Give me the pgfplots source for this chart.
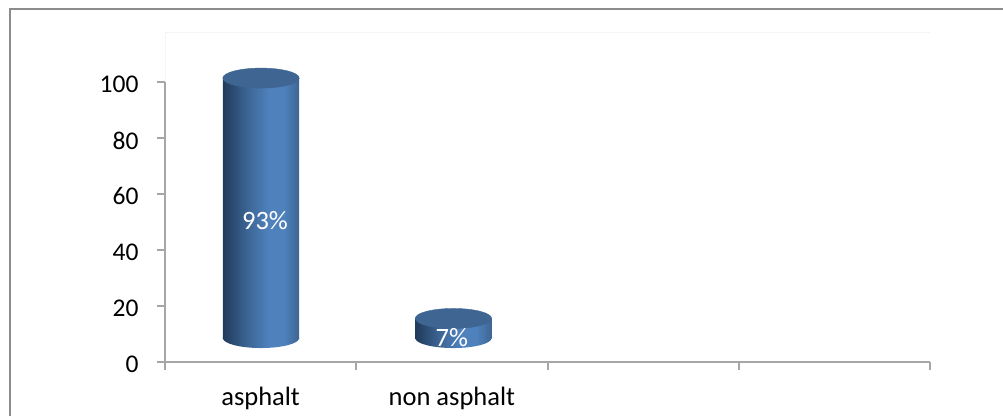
\documentclass[border=0pt]{standalone}
\usepackage{pgfplots}
\pgfplotsset{compat=1.18}
\usepackage{pgfplotstable}
\usepackage{fontspec}
\setmainfont{Carlito}
\definecolor{axisgray}{HTML}{A6A6A6}
\definecolor{framegray}{HTML}{8C8C8C}
\definecolor{captop}{HTML}{3F6693}
\definecolor{cyldark}{HTML}{203A5A}
\definecolor{cylmid}{HTML}{3C6595}
\definecolor{cyllight}{HTML}{4F81BD}
\definecolor{cylright}{HTML}{3E6593}
% Horizontal body shading of the cylinders
\pgfdeclarehorizontalshading{cylbody}{100bp}{
  color(0bp)=(cyldark);
  color(25bp)=(cyldark);
  color(41bp)=(cylmid);
  color(55bp)=(cyllight);
  color(65bp)=(cyllight);
  color(75bp)=(cylright);
  color(100bp)=(cylright)}
% Cylinder caps: top face and rounded underside
\pgfdeclareplotmark{cyltop}{%
  \fill[captop] (0,0) ellipse [x radius=38.2pt, y radius=10pt];}
\pgfdeclareplotmark{cylbase}{%
  \path[shade, shading=cylbody, draw=none] (-38.2pt,0.5pt) -- (-38.2pt,0pt)
     arc [start angle=180, end angle=360, x radius=38.2pt, y radius=10pt]
     -- (38.2pt,0.5pt) -- cycle;}
\pgfplotstableread{
x      base  value
0.502  8.4   93
}\asphalt
\pgfplotstableread{
x      base  value
1.508  8.4   7
}\nonasphalt
% Same plot box for every layer of the chart
\pgfplotsset{plotbox/.style={
  at={(165pt,54.5pt)}, anchor=south west,
  scale only axis, width=765pt, height=279.5pt,
  xmin=0, xmax=4, ymin=0, ymax=100, clip=false}}
% One cylinder: base offset, shaded body, rounded underside and top face
\newcommand{\cylinder}[1]{%
  \begin{axis}[plotbox, hide axis, ybar stacked, bar width=76.4pt]
    \addplot[forget plot, draw=none, fill=none] table[x=x,y=base] {#1};
    \addplot[forget plot, draw=none, shade, shading=cylbody] table[x=x,y=value] {#1};
  \end{axis}
  \begin{axis}[plotbox, hide axis]
    \addplot[only marks, mark=cylbase, mark options={draw=none}] table[x=x, y=base] {#1};
    \addplot[only marks, mark=cyltop, mark options={draw=none}] table[x=x, y expr=\thisrow{base}+\thisrow{value}] {#1};
  \end{axis}}
\begin{document}
\begin{tikzpicture}[x=1pt,y=1pt]
\path[use as bounding box] (0,0) rectangle (1003,416);
\draw[framegray,line width=2pt] (9.5,0) -- (9.5,406.5) -- (1003,406.5);
\begin{axis}[
  plotbox,
  axis x line*=bottom, axis y line*=left,
  axis line style={axisgray,line width=2pt,-},
  tick align=outside, major tick length=8pt,
  every tick/.style={axisgray,line width=2pt},
  xtick={0,1,2,3,4}, xticklabels={},
  extra x ticks={0.5,1.5},
  extra x tick labels={asphalt,non asphalt},
  extra x tick style={major tick length=0pt,
    tick label style={yshift=-22pt, font=\fontsize{26.5}{28}\selectfont}},
  ytick={0,20,...,100},
  /pgf/number format/assume math mode=true,
  tick label style={font=\fontsize{25.5}{28}\selectfont, text=black},
  y tick label style={xshift=-15pt, yshift=-2.5pt},
]
% Wall edge above the last tick
\draw[black!4,line width=0.8pt] (axis cs:0,100) -- (axis cs:0,117.9) -- (axis cs:4,117.9);
\end{axis}
\cylinder{\asphalt}
\cylinder{\nonasphalt}
% Value labels stay on top of the cylinders
\begin{axis}[plotbox, hide axis]
  \node[text=white,font=\fontsize{26.5}{28}\selectfont] at (axis cs:0.523,50.3) {93\%};
  \node[text=white,font=\fontsize{26.5}{28}\selectfont] at (axis cs:1.5,8.6) {7\%};
\end{axis}
\end{tikzpicture}
\end{document}
